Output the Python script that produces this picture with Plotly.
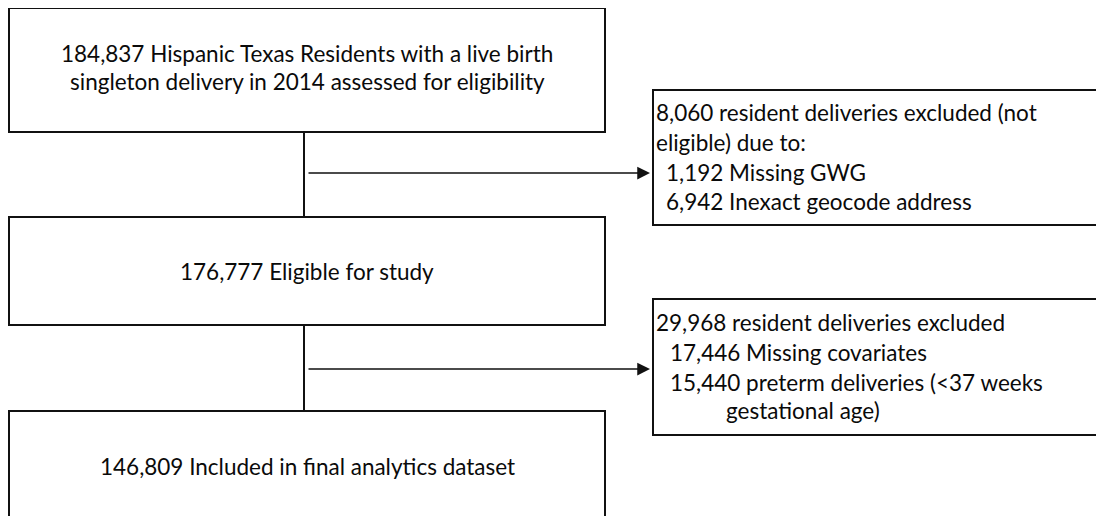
import plotly.graph_objects as go

# ---- data (text content of the flow diagram) ----
main_box_texts = [
    ["184,837 Hispanic Texas Residents with a live birth",
     "singleton delivery in 2014 assessed for eligibility"],
    ["176,777 Eligible for study"],
    ["146,809 Included in final analytics dataset"],
]
excl_box_texts = [
    ["8,060 resident deliveries excluded (not", "eligible) due to:",
     "1,192 Missing GWG", "6,942 Inexact geocode address"],
    ["29,968 resident deliveries excluded", "17,446 Missing covariates",
     "15,440 preterm deliveries (<37 weeks", "gestational age)"],
]

# ---- layout geometry (page pixels) ----
W, H = 1104, 516
BODY = 8          # browser default body margin
OFF = 6           # axis value at the plot's top-left corner
main_boxes = [(7, 6, 603, 130), (7, 215, 603, 323), (7, 409, 603, 540)]
main_text_y = [[51, 79], [269], [464]]
excl_boxes = [(651, 88, 1096, 223), (651, 297, 1096, 433)]
excl_text_y = [[110, 140, 170, 199], [320, 350, 380, 408]]
excl_text_x = [[652, 652, 662, 662], [652, 666, 666, 722]]
arrow_y = [171, 367]
stem_x = 302

FONT = dict(family="Lato, 'Noto Sans', sans-serif", size=22.5, color="#0a0a0a")
LINE = dict(color="#111111", width=2)

fig = go.Figure()
shapes = []
annotations = []

for (x0, y0, x1, y1), lines, ys in zip(main_boxes, main_box_texts, main_text_y):
    shapes.append(dict(type="rect", xref="x", yref="y", x0=x0, y0=y0, x1=x1, y1=y1,
                       line=LINE, fillcolor="white", layer="below"))
    for t, y in zip(lines, ys):
        annotations.append(dict(x=(x0 + x1) / 2, y=y, xref="x", yref="y", text=t,
                                showarrow=False, font=FONT, xanchor="center", yanchor="middle"))

for (x0, y0, x1, y1), lines, ys, xs in zip(excl_boxes, excl_box_texts, excl_text_y, excl_text_x):
    shapes.append(dict(type="rect", xref="x", yref="y", x0=x0, y0=y0, x1=x1, y1=y1,
                       line=LINE, fillcolor="white", layer="below"))
    for t, y, x in zip(lines, ys, xs):
        annotations.append(dict(x=x, y=y, xref="x", yref="y", text=t,
                                showarrow=False, font=FONT, xanchor="left", yanchor="middle"))

# vertical connectors between main boxes
for i in range(len(main_boxes) - 1):
    shapes.append(dict(type="line", xref="x", yref="y", x0=stem_x, x1=stem_x,
                       y0=main_boxes[i][3], y1=main_boxes[i + 1][1], line=LINE))

# horizontal arrows to exclusion boxes
for y, box in zip(arrow_y, excl_boxes):
    annotations.append(dict(x=box[0] - 3, y=y, ax=stem_x + 3, ay=y, xref="x", yref="y",
                            axref="x", ayref="y", text="", showarrow=True,
                            arrowhead=2, arrowsize=1.5, arrowwidth=1.7, arrowcolor="#111111"))

fig.update_layout(
    width=W - BODY, height=H - BODY, margin=dict(l=0, r=0, t=0, b=0),
    paper_bgcolor="white", plot_bgcolor="white",
    xaxis=dict(range=[OFF, OFF + W - BODY], visible=False, fixedrange=True),
    yaxis=dict(range=[OFF + H - BODY, OFF], visible=False, fixedrange=True),
    shapes=shapes, annotations=annotations, showlegend=False,
)
fig.write_html("out.html")
